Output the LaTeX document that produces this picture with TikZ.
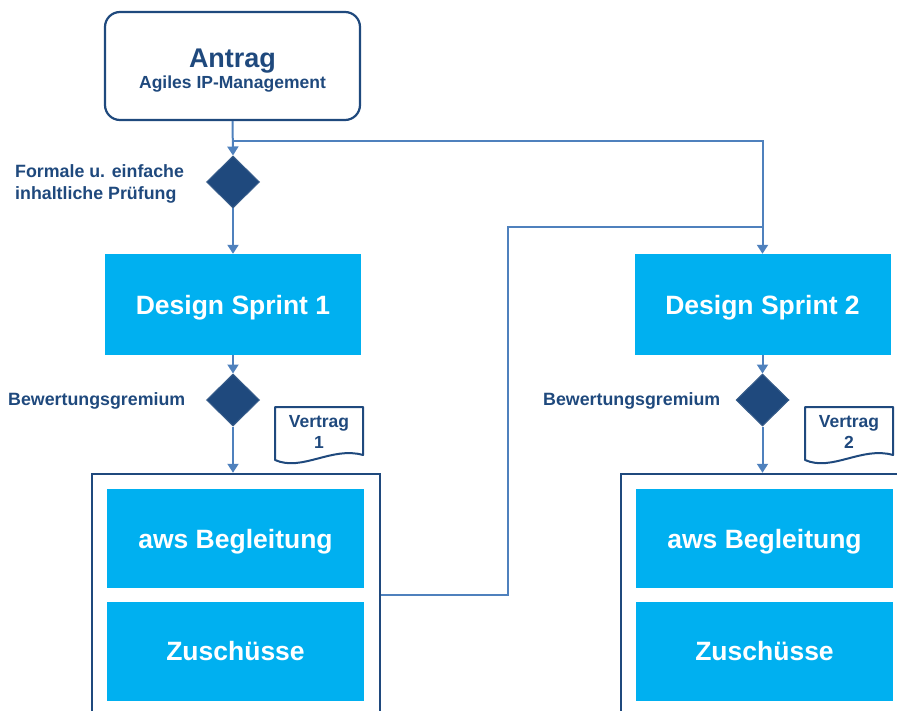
\documentclass[tikz,border=0pt]{standalone}
\usepackage{fontspec}
\setmainfont{Liberation Sans}
\usetikzlibrary{shapes.geometric,arrows.meta}
\definecolor{navy}{HTML}{1F497D}
\definecolor{gateedge}{HTML}{385D8A}
\definecolor{skyblue}{HTML}{00B0F0}
\definecolor{wireblue}{HTML}{4F81BD}

\begin{document}
\begin{tikzpicture}[x=1pt,y=-1pt,
        wire/.style={draw=wireblue,line width=2pt},
        flow/.style={wire,-{Triangle[width=11pt,length=9pt]}},
        startbox/.style={rectangle,rounded corners=15pt,draw=navy,line width=2.2pt,
            minimum width=255pt,minimum height=108pt,inner sep=0pt},
        starttext/.style={text=navy,inner sep=0pt,font=\fontsize{#1}{20}\selectfont\bfseries},
        sprintbox/.style={rectangle,fill=skyblue,text=white,inner sep=0pt,text depth=0pt,
            minimum width=256pt,minimum height=101pt,font=\fontsize{26.5}{30}\selectfont\bfseries},
        partbox/.style={sprintbox,minimum width=257pt,minimum height=99pt},
        gate/.style={diamond,fill=navy,draw=gateedge,line width=1pt,
            minimum width=53pt,minimum height=52pt,inner sep=0pt},
        frame/.style={rectangle,draw=navy,line width=2.5pt,minimum width=288pt,minimum height=256pt},
        caption/.style={text=navy,align=left,inner sep=0pt,font=\fontsize{17.8}{22}\selectfont\bfseries},
        doctext/.style={text=navy,align=center,inner sep=0pt,font=\fontsize{17.5}{21}\selectfont\bfseries},
        docline/.style={draw=navy,line width=2pt,line join=round}
    ]
        \useasboundingbox (0,0) rectangle (897,711);
        \clip (0,0) rectangle (897,711);

        % top
        \node[startbox] (antrag) at (232.5,66) {};
        \node[starttext=27] (antragtitle) at (232.5,61) {Antrag};
        \node[starttext=17.5] (antragsub) at (232.5,84) {Agiles IP-Management};
        \node[gate] (check) at (233,182) {};
        \node[caption,anchor=west] (checklabel) at (15,184) {Formale u. einfache\\inhaltliche Prüfung};

        % sprints
        \node[sprintbox] (sprint1) at (233,304.5) {Design Sprint 1};
        \node[sprintbox] (sprint2) at (762.5,304.5) {Design Sprint 2};
        \node[gate] (vote1) at (233,400) {};
        \node[gate] (vote2) at (762.5,400) {};
        \node[caption,anchor=west] (votelabel1) at (8,401) {Bewertungsgremium};
        \node[caption,anchor=west] (votelabel2) at (543,401) {Bewertungsgremium};

        % contracts
        \draw[docline] (275,407) -- (363,407) -- (363,455) .. controls (332,446) and (302,472) .. (275,460) -- cycle;
        \draw[docline] (805,407) -- (893,407) -- (893,455) .. controls (862,446) and (832,472) .. (805,460) -- cycle;
        \node[doctext] (vertrag1) at (319,432) {Vertrag\\1};
        \node[doctext] (vertrag2) at (849,432) {Vertrag\\2};

        % phases
        \node[frame] (frame1) at (236,602) {};
        \node[frame] (frame2) at (765,602) {};
        \node[partbox] (aws1) at (235.5,538.5) {aws Begleitung};
        \node[partbox] (aws2) at (764.5,538.5) {aws Begleitung};
        \node[partbox] (zus1) at (235.5,651) {Zuschüsse};
        \node[partbox] (zus2) at (764.5,651) {Zuschüsse};

        % connectors
        \coordinate (split) at (233,141);
        \coordinate (back) at (508,227);
        \draw[flow] (antrag.south) -- (check.north);
        \draw[flow] (split) -| (sprint2.north);
        \draw[flow] (check.south) -- (sprint1.north);
        \draw[flow] (sprint1.south) -- (vote1.north);
        \draw[flow] (sprint2.south) -- (vote2.north);
        \draw[flow] (vote1.south) -- (vote1.south |- frame1.north);
        \draw[flow] (vote2.south) -- (vote2.south |- frame2.north);
        \draw[wire] (frame1.east |- 0,595) -| (back) -- (back -| sprint2.north);
    \end{tikzpicture}
\end{document}
